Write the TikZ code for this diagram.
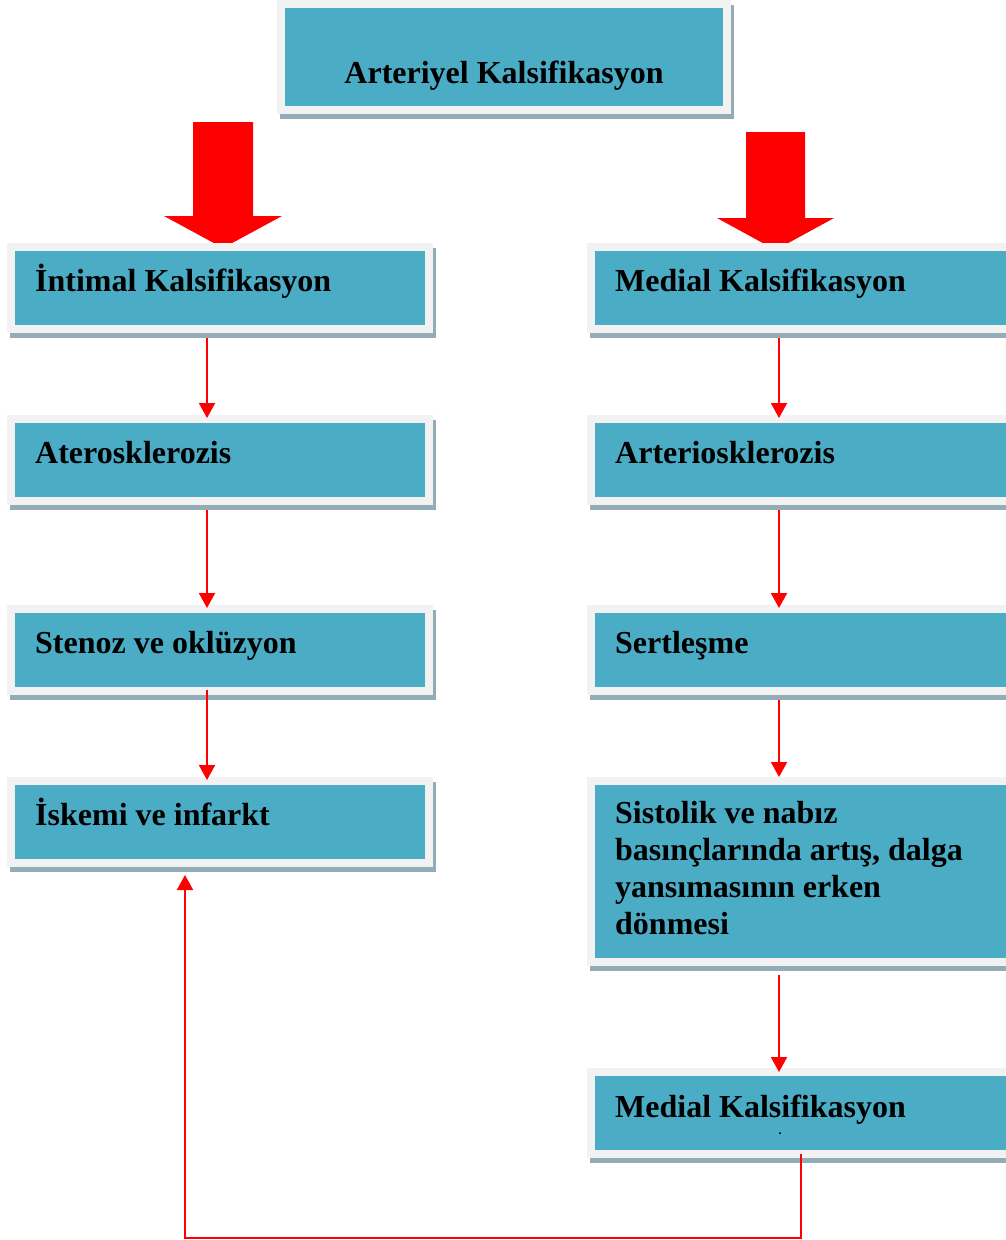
\documentclass[tikz,border=0pt]{standalone}
\usepackage{fontspec}
\setmainfont{Liberation Serif}
\usetikzlibrary{arrows.meta,shadows}
\definecolor{tealbox}{HTML}{4BACC6}
\definecolor{framecol}{HTML}{F2F2F2}
\definecolor{shadowcol}{HTML}{93ACB5}
\definecolor{arrred}{HTML}{FF0000}
\begin{document}
\begin{tikzpicture}[x=1pt,y=-1pt,
  box/.style n args={2}{rectangle, anchor=north west, inner sep=0pt, outer sep=0pt,
    minimum width=#1pt, minimum height=#2pt, fill=framecol,
    drop shadow={shadow xshift=3pt, shadow yshift=-5pt, fill=shadowcol, opacity=1},
    path picture={\fill[tealbox] ([xshift=8pt,yshift=-8pt]path picture bounding box.north west)
      rectangle ([xshift=-8pt,yshift=8pt]path picture bounding box.south east);}},
  lbl/.style={anchor=base west, inner sep=0pt, font=\bfseries\fontsize{32}{37}\selectfont},
  tarrow/.style={draw=arrred, line width=2pt, -{Triangle[width=16pt,length=15pt]}},
  bigarrow/.style={fill=arrred, draw=none}]
\useasboundingbox (0,0) rectangle (1006,1240);
\clip (0,0) rectangle (1006,1240);
\fill[white] (0,0) rectangle (1006,1240);

% thick arrows
\fill[bigarrow] (193,122) -- (253,122) -- (253,216) -- (282,216) -- (223,248) -- (164,216) -- (193,216) -- cycle;
\fill[bigarrow] (746,132) -- (805,132) -- (805,218) -- (834,218) -- (775.5,250) -- (717,218) -- (746,218) -- cycle;

% top box
\node[box={454}{114}] (T) at (277,0) {};
\node[lbl, anchor=base] (Tt) at (504,83) {Arteriyel Kalsifikasyon};

% left column
\node[box={426}{90}] (L1) at (7,243) {};
\node[lbl] (L1t) at (35,291) {İntimal Kalsifikasyon};
\node[box={426}{90}] (L2) at (7,415) {};
\node[lbl] (L2t) at (35,463) {Aterosklerozis};
\node[box={426}{90}] (L3) at (7,605) {};
\node[lbl] (L3t) at (35,653) {Stenoz ve oklüzyon};
\node[box={426}{90}] (L4) at (7,777) {};
\node[lbl] (L4t) at (35,825) {İskemi ve infarkt};

% right column
\node[box={440}{90}] (R1) at (587,243) {};
\node[lbl] (R1t) at (615,291) {Medial Kalsifikasyon};
\node[box={440}{90}] (R2) at (587,415) {};
\node[lbl] (R2t) at (615,463) {Arteriosklerozis};
\node[box={440}{90}] (R3) at (587,605) {};
\node[lbl] (R3t) at (615,653) {Sertleşme};
\node[box={440}{189}] (R4) at (587,777) {};
\node[lbl] (R4t) at (615,823) {\vtop{\halign{#\hfil\cr Sistolik ve nabız\cr basınçlarında artış, dalga\cr yansımasının erken\cr dönmesi\cr}}};
\node[box={440}{90}] (R5) at (587,1068) {};
\node[lbl] (R5t) at (615,1117) {Medial Kalsifikasyon};
\node[anchor=base, inner sep=0pt, font=\bfseries\fontsize{12}{12}\selectfont] (R5dot) at (780,1134) {.};

% thin arrows left
\draw[tarrow] ([xshift=200pt,yshift=-5pt]L1.south west) -- ([xshift=200pt,yshift=-3pt]L2.north west);
\draw[tarrow] ([xshift=200pt,yshift=-5pt]L2.south west) -- ([xshift=200pt,yshift=-3pt]L3.north west);
\draw[tarrow] ([xshift=200pt,yshift=5pt]L3.south west) -- ([xshift=200pt,yshift=-3pt]L4.north west);
% thin arrows right
\draw[tarrow] ([xshift=192pt,yshift=-5pt]R1.south west) -- ([xshift=192pt,yshift=-3pt]R2.north west);
\draw[tarrow] ([xshift=192pt,yshift=-5pt]R2.south west) -- ([xshift=192pt,yshift=-3pt]R3.north west);
\draw[tarrow] ([xshift=192pt,yshift=-5pt]R3.south west) -- ([xshift=192pt,yshift=0pt]R4.north west);
\draw[tarrow] ([xshift=192pt,yshift=-9pt]R4.south west) -- ([xshift=192pt,yshift=-4pt]R5.north west);
% return connector
\draw[tarrow] ([xshift=214pt,yshift=4pt]R5.south west) -- ++(0,84) -| ([xshift=178pt,yshift=-8pt]L4.south west);
\end{tikzpicture}
\end{document}
